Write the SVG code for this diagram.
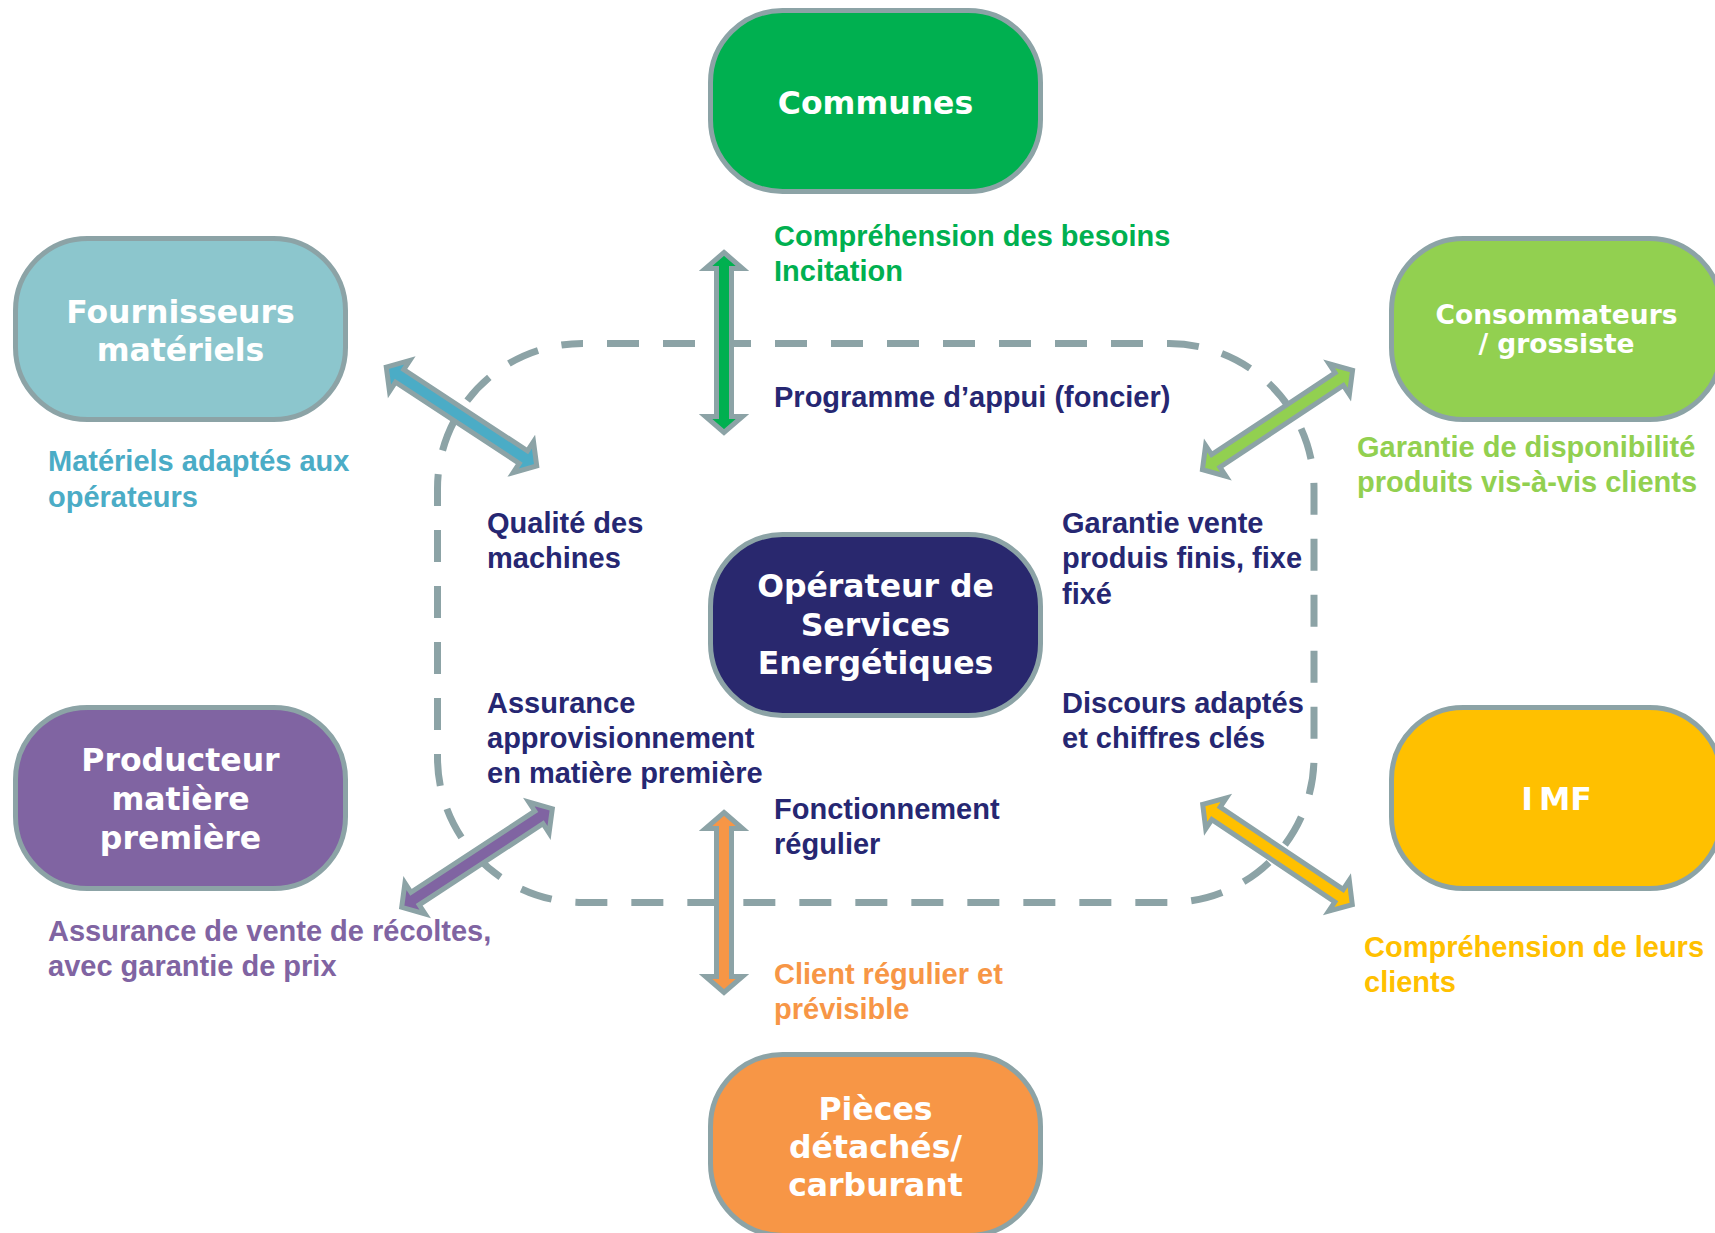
<svg xmlns="http://www.w3.org/2000/svg" width="1715" height="1233" viewBox="0 0 1715 1233">
<style>
.node rect{stroke:#8ca3a6;stroke-width:5}
.nt{font-family:"DejaVu Sans",Verdana,sans-serif;font-weight:bold;font-size:31.5px;fill:#ffffff;text-anchor:middle}
.lb{font-family:"Liberation Sans",Arial,sans-serif;font-weight:bold;font-size:29px}
.navy{fill:#262772}
.arrow{stroke:#8ca3a6;stroke-width:5;stroke-linejoin:miter;stroke-miterlimit:10}
</style>
<defs>
<path id="dbl" d="M-90,0 L-74,-18.5 L-74,-7.5 L74,-7.5 L74,-18.5 L90,0 L74,18.5 L74,7.5 L-74,7.5 L-74,18.5 Z"/>
</defs>
<rect width="1715" height="1233" fill="#ffffff"/>
<g id="boundary">
<rect x="437.5" y="343.5" width="876.5" height="559" rx="145" ry="145" fill="none" stroke="#8ca3a6" stroke-width="7" stroke-dasharray="32 24" stroke-dashoffset="31.5"/>
</g>
<g id="connectors">
<use href="#dbl" class="arrow" fill="#00b050" transform="translate(724,342.5) rotate(90)"/>
<use href="#dbl" class="arrow" fill="#f79646" transform="translate(724,902.5) rotate(90)"/>
<use href="#dbl" class="arrow" fill="#4bacc6" transform="translate(461.5,416.5) rotate(33.3)"/>
<use href="#dbl" class="arrow" fill="#92d050" transform="translate(1277.5,420) rotate(-33.5)"/>
<use href="#dbl" class="arrow" fill="#8064a2" transform="translate(477,858) rotate(-33.2)"/>
<use href="#dbl" class="arrow" fill="#ffc000" transform="translate(1277.5,854.5) rotate(33.8)"/>
</g>
<g id="communes" class="node">
<rect x="710.5" y="10.5" width="330" height="181" rx="72" fill="#00b050"/>
<text class="nt" x="875.5" y="114">Communes</text>
</g>
<g id="fournisseurs" class="node">
<rect x="15.5" y="238.5" width="330" height="181" rx="72" fill="#8cc6cd"/>
<text class="nt" x="180.5" y="323">Fournisseurs</text>
<text class="nt" x="180.5" y="361">matériels</text>
</g>
<g id="consommateurs" class="node">
<rect x="1391.5" y="238.5" width="330" height="181" rx="72" fill="#92d050"/>
<text class="nt" x="1556.5" y="324" style="font-size:26.5px">Consommateurs</text>
<text class="nt" x="1556.5" y="353" style="font-size:26.5px">/ grossiste</text>
</g>
<g id="operateur" class="node">
<rect x="710.5" y="534.5" width="330" height="181" rx="72" fill="#29286e"/>
<text class="nt" x="875.5" y="597">Opérateur de</text>
<text class="nt" x="875.5" y="636">Services</text>
<text class="nt" x="875.5" y="674">Energétiques</text>
</g>
<g id="producteur" class="node">
<rect x="15.5" y="707.5" width="330" height="181" rx="72" fill="#8064a2"/>
<text class="nt" x="180.5" y="771">Producteur</text>
<text class="nt" x="180.5" y="810">matière</text>
<text class="nt" x="180.5" y="849">première</text>
</g>
<g id="imf" class="node">
<rect x="1391.5" y="707.5" width="330" height="181" rx="72" fill="#ffc000"/>
<text class="nt" x="1556.5" y="810">I<tspan dx="6">MF</tspan></text>
</g>
<g id="pieces" class="node">
<rect x="710.5" y="1054.5" width="330" height="181" rx="72" fill="#f79646"/>
<text class="nt" x="875.5" y="1120">Pièces</text>
<text class="nt" x="875.5" y="1158">détachés/</text>
<text class="nt" x="875.5" y="1196">carburant</text>
</g>
<g id="labels">
<text class="lb" fill="#00b050" x="774" y="246">Compréhension des besoins</text>
<text class="lb" fill="#00b050" x="774" y="281">Incitation</text>
<text class="lb navy" x="774" y="407">Programme d’appui (foncier)</text>
<text class="lb" fill="#4bacc6" x="48" y="471">Matériels adaptés aux</text>
<text class="lb" fill="#4bacc6" x="48" y="507">opérateurs</text>
<text class="lb navy" x="487" y="533">Qualité des</text>
<text class="lb navy" x="487" y="568">machines</text>
<text class="lb navy" x="1062" y="533">Garantie vente</text>
<text class="lb navy" x="1062" y="568">produis finis, fixe</text>
<text class="lb navy" x="1062" y="604">fixé</text>
<text class="lb" fill="#92d050" x="1357" y="457">Garantie de disponibilité</text>
<text class="lb" fill="#92d050" x="1357" y="492">produits vis-à-vis clients</text>
<text class="lb navy" x="487" y="713">Assurance</text>
<text class="lb navy" x="487" y="748">approvisionnement</text>
<text class="lb navy" x="487" y="783">en matière première</text>
<text class="lb navy" x="1062" y="713">Discours adaptés</text>
<text class="lb navy" x="1062" y="748">et chiffres clés</text>
<text class="lb navy" x="774" y="819">Fonctionnement</text>
<text class="lb navy" x="774" y="854">régulier</text>
<text class="lb" fill="#8064a2" x="48" y="941">Assurance de vente de récoltes,</text>
<text class="lb" fill="#8064a2" x="48" y="976">avec garantie de prix</text>
<text class="lb" fill="#f79646" x="774" y="984">Client régulier et</text>
<text class="lb" fill="#f79646" x="774" y="1019">prévisible</text>
<text class="lb" fill="#ffc000" x="1364" y="957">Compréhension de leurs</text>
<text class="lb" fill="#ffc000" x="1364" y="992">clients</text>
</g>
</svg>
